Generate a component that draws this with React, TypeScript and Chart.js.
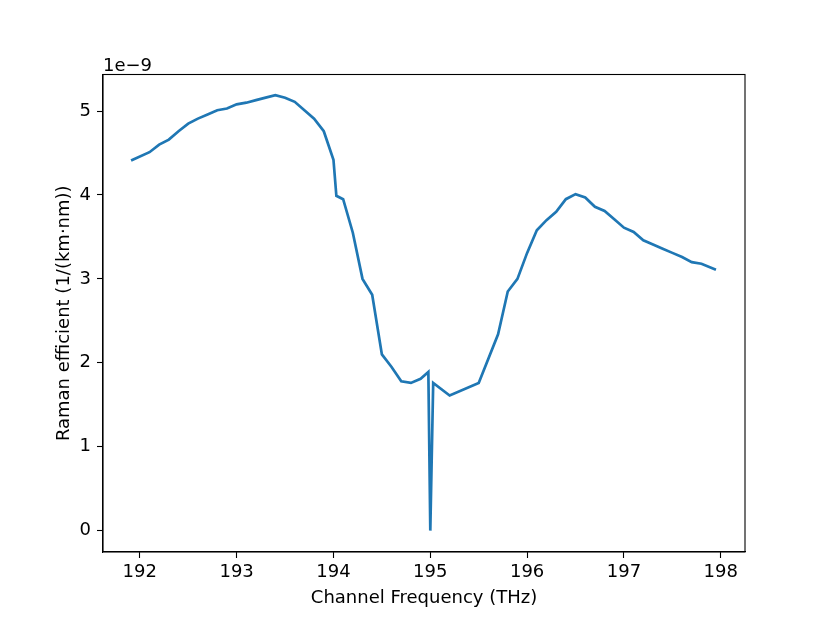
import React, { useEffect, useRef } from "react";
import { Chart, registerables } from "chart.js";

Chart.register(...registerables);

const frequencies: number[] = [
  191.91, 192.1, 192.2, 192.3, 192.4, 192.5, 192.6, 192.7, 192.8, 192.9, 193.0,
  193.1, 193.2, 193.3, 193.4, 193.5, 193.6, 193.7, 193.8, 193.9, 194.0, 194.03,
  194.1, 194.2, 194.3, 194.4, 194.5, 194.6, 194.7, 194.8, 194.9, 194.98, 195.0,
  195.03, 195.2, 195.5, 195.7, 195.8, 195.9, 196.0, 196.1, 196.2, 196.3, 196.4,
  196.5, 196.6, 196.7, 196.8, 196.9, 197.0, 197.1, 197.2, 197.3, 197.4, 197.5,
  197.6, 197.7, 197.8, 197.95,
];

// Raman efficiency in units of 1e-9 1/(km·nm)
const ramanE9: number[] = [
  4.41, 4.51, 4.6, 4.66, 4.76, 4.85, 4.91, 4.96, 5.01, 5.03, 5.08,
  5.1, 5.13, 5.16, 5.19, 5.16, 5.11, 5.01, 4.91, 4.76, 4.42, 3.99,
  3.95, 3.55, 3.0, 2.81, 2.1, 1.95, 1.78, 1.76, 1.81, 1.89, 0.0,
  1.76, 1.61, 1.76, 2.34, 2.85, 3.0, 3.31, 3.58, 3.7, 3.8, 3.95,
  4.01, 3.97, 3.86, 3.81, 3.71, 3.61, 3.56, 3.46, 3.41, 3.36, 3.31,
  3.26, 3.2, 3.18, 3.11,
];

const xTicks: number[] = [192, 193, 194, 195, 196, 197, 198];
const yTicks: number[] = [0, 1, 2, 3, 4, 5];
const xLabel = "Channel Frequency (THz)";
const yLabel = "Raman efficient (1/(km·nm))";
const offsetText = "1e\u22129";

const FONT = "'DejaVu Sans', sans-serif";

export default function App() {
  const ref = useRef<HTMLCanvasElement | null>(null);

  useEffect(() => {
    if (!ref.current) return;
    const framePlugin = {
      id: "frame",
      afterDraw(chart: any) {
        const { ctx, chartArea } = chart;
        ctx.save();
        ctx.strokeStyle = "#000";
        ctx.lineWidth = 1.1;
        ctx.strokeRect(chartArea.left, chartArea.top, chartArea.right - chartArea.left, chartArea.bottom - chartArea.top);
        ctx.fillStyle = "#000";
        ctx.font = `18px ${FONT}`;
        ctx.textAlign = "left";
        ctx.textBaseline = "alphabetic";
        ctx.fillText(offsetText, chartArea.left, chartArea.top - 4);
        ctx.restore();
      },
    };

    const chart = new Chart(ref.current, {
      type: "line",
      data: {
        datasets: [
          {
            data: frequencies.map((f, i) => ({ x: f, y: ramanE9[i] })),
            borderColor: "#1f77b4",
            borderWidth: 2.7,
            pointRadius: 0,
            tension: 0,
            fill: false,
          },
        ],
      },
      options: {
        responsive: false,
        animation: false,
        layout: { padding: { top: 74.5, right: 83, bottom: 0, left: 0 } },
        plugins: { legend: { display: false }, tooltip: { enabled: false } },
        scales: {
          x: {
            type: "linear",
            min: 191.62,
            max: 198.25,
            afterBuildTicks: (s: any) => {
              s.ticks = xTicks.map((v) => ({ value: v }));
            },
            afterFit: (s: any) => {
              s.height = 69;
            },
            grid: { drawOnChartArea: false, drawTicks: true, tickLength: 6, tickWidth: 1.1, tickColor: "#000" },
            border: { display: true, color: "#000", width: 1.1 },
            ticks: { color: "#000", font: { family: FONT, size: 18 }, padding: 4, maxRotation: 0, autoSkip: false },
            title: { display: true, text: xLabel, color: "#000", font: { family: FONT, size: 18, lineHeight: 1.2 }, padding: { top: 0, bottom: 12 } },
          },
          y: {
            type: "linear",
            min: -0.255,
            max: 5.436,
            afterBuildTicks: (s: any) => {
              s.ticks = yTicks.map((v) => ({ value: v }));
            },
            afterFit: (s: any) => {
              s.width = 103;
            },
            grid: { drawOnChartArea: false, drawTicks: true, tickLength: 6, tickWidth: 1.1, tickColor: "#000" },
            border: { display: true, color: "#000", width: 1.1 },
            ticks: { color: "#000", font: { family: FONT, size: 18 }, padding: 6, autoSkip: false },
            title: { display: true, text: yLabel, color: "#000", font: { family: FONT, size: 18, lineHeight: 1.2 }, padding: { top: 54, bottom: 0 } },
          },
        },
      },
      plugins: [framePlugin],
    });
    return () => chart.destroy();
  }, []);

  return (
    <div style={{ position: "fixed", left: 0, top: 0, width: 828, height: 621, background: "#fff" }}>
      <canvas ref={ref} width={828} height={621} style={{ width: 828, height: 621 }} />
    </div>
  );
}
